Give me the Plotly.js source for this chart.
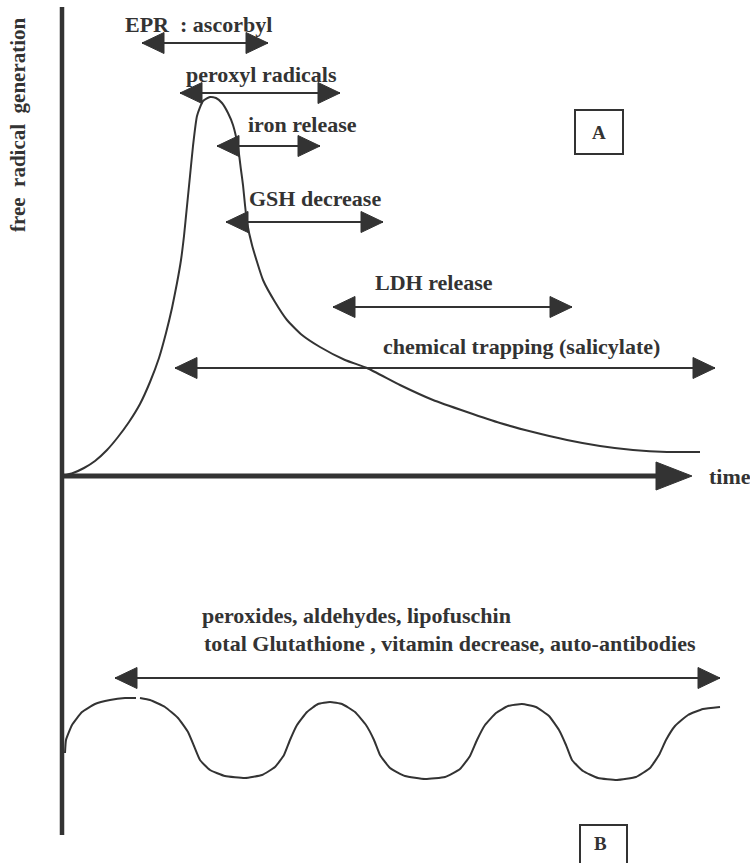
<!DOCTYPE html>
<html>
<head>
<meta charset="utf-8">
<script src="https://cdn.plot.ly/plotly-3.0.1.min.js"></script>
<style>html,body{margin:0;padding:0;background:#fff;}#chart{width:750px;height:863px;}</style>
</head>
<body>
<div id="chart"></div>
<script>
// ---- Data (x = time units from origin, y = level above time axis) ----
const curveTime = [0,11,22,33,45,56,67,78,88,97,104,110,115,119,122,125,128,131,135,141,148,154,160,166,171,176,179,181,183,185,190,201,213,225,240,258,283,305,338,371,405,438,471,505,538,571,605,638];
const curveLevel = [0,3,8,15,26,39,54,72,94,118,143,168,193,216,240,270,300,330,360,375,379,378,373,363,351,329,306,291,271,254,231,196,174,156,141,129,116,108,91,76,64,53,44,36,30,26,24,24];

const waveTime = [3,4,10,20,33,48,63,74,null,78,88,103,116,126,132,138,148,163,183,200,213,222,228,235,245,256,268,280,293,304,312,318,328,343,363,383,398,408,415,423,434,446,460,474,487,497,504,510,521,536,555,574,588,597,604,613,626,641,658];
const waveLevel = [-277,-264,-249,-236,-228,-224,-222,-222,null,-222,-224,-231,-242,-256,-270,-284,-294,-300,-302,-299,-291,-279,-264,-249,-236,-228,-226,-228,-236,-249,-264,-279,-292,-300,-303,-301,-293,-280,-264,-249,-237,-230,-228,-231,-240,-254,-269,-284,-295,-302,-304,-301,-292,-279,-264,-250,-239,-233,-231];

const arrowLabels = ["EPR\u00a0\u00a0: ascorbyl","peroxyl radicals","iron release","GSH decrease","LDH release","chemical trapping (salicylate)"];
const arrowStart = [80,118,155,164,271,113];
const arrowEnd   = [206,278,258,321,510,653];
const arrowLevel = [433,383,330,254,169,108];

const panelBLines = ["peroxides, aldehydes, lipofuschin","total Glutathione , vitamin decrease, auto-antibodies"];
const panelBArrow = {start:53, end:658, level:-202};

const axisX = {start:0, tip:630, level:0};
const axisY = {x:0, top:469, bottom:-359};

// ---- Styles / label placement ----
const INK = '#333333';
const FONT = {family:'"Liberation Serif", "Times New Roman", serif', size:22, color:INK};
const HEAD_L = 22, HEAD_H = 10.5;
const labelX = [136,199,240,253,372,459];
const labelY = [452,402,352,278,194,130];

const traces = [];
const shapes = [];
const annotations = [];

function headPath(xt, y, dir, L, H){
  const xb = xt - dir*L;
  return `M ${xt},${y} L ${xb},${y+H} L ${xb},${y-H} Z`;
}
function addHead(xt,y,dir,L,H){
  shapes.push({type:'path', xref:'x', yref:'y', path:headPath(xt,y,dir,L,H), fillcolor:INK, line:{color:INK, width:1}});
}

// axes
traces.push({x:[axisY.x, axisY.x], y:[axisY.top, axisY.bottom], mode:'lines', line:{color:INK, width:4.5}, hoverinfo:'skip'});
traces.push({x:[axisX.start, axisX.tip-30], y:[axisX.level, axisX.level], mode:'lines', line:{color:INK, width:5}, hoverinfo:'skip'});
addHead(axisX.tip, axisX.level, 1, 36, 14);

// curve A
traces.push({x:curveTime, y:curveLevel, mode:'lines', line:{color:INK, width:2, shape:'spline', smoothing:0.5}, hoverinfo:'skip'});
// wave B
traces.push({x:waveTime, y:waveLevel, mode:'lines', connectgaps:false, line:{color:INK, width:2, shape:'spline', smoothing:0.4}, hoverinfo:'skip'});

// double arrows panel A
for (let i=0;i<arrowLabels.length;i++){
  traces.push({x:[arrowStart[i], arrowEnd[i]], y:[arrowLevel[i], arrowLevel[i]], mode:'lines', line:{color:INK, width:2}, hoverinfo:'skip'});
  addHead(arrowStart[i], arrowLevel[i], -1, HEAD_L, HEAD_H);
  addHead(arrowEnd[i], arrowLevel[i], 1, HEAD_L, HEAD_H);
  annotations.push({x:labelX[i], y:labelY[i], xref:'x', yref:'y', text:'<b>'+arrowLabels[i]+'</b>', showarrow:false, xanchor:'center', yanchor:'middle', font:FONT});
}

// panel B arrow
traces.push({x:[panelBArrow.start, panelBArrow.end], y:[panelBArrow.level, panelBArrow.level], mode:'lines', line:{color:INK, width:2}, hoverinfo:'skip'});
addHead(panelBArrow.start, panelBArrow.level, -1, HEAD_L, HEAD_H);
addHead(panelBArrow.end, panelBArrow.level, 1, HEAD_L, HEAD_H);
annotations.push({x:138, y:-139, xref:'x', yref:'y', text:'<b>'+panelBLines[0]+'</b>', showarrow:false, xanchor:'left', yanchor:'middle', font:FONT});
annotations.push({x:140, y:-167, xref:'x', yref:'y', text:'<b>'+panelBLines[1]+'</b>', showarrow:false, xanchor:'left', yanchor:'middle', font:FONT});

// time label
annotations.push({x:645, y:0, xref:'x', yref:'y', text:'<b>time</b>', showarrow:false, xanchor:'left', yanchor:'middle', font:FONT});
// y label
annotations.push({x:-44, y:351, xref:'x', yref:'y', text:'<b>free\u00a0\u00a0radical\u00a0\u00a0generation</b>', showarrow:false, textangle:-90, xanchor:'center', yanchor:'middle', font:Object.assign({}, FONT, {size:21})});

// panel boxes
shapes.push({type:'rect', xref:'x', yref:'y', x0:513, x1:561, y0:322, y1:366, line:{color:INK, width:2}});
annotations.push({x:537, y:344, xref:'x', yref:'y', text:'<b>A</b>', showarrow:false, font:Object.assign({}, FONT, {size:19})});
shapes.push({type:'rect', xref:'x', yref:'y', x0:518, x1:565, y0:-399, y1:-349, line:{color:INK, width:2}});
annotations.push({x:538, y:-367, xref:'x', yref:'y', text:'<b>B</b>', showarrow:false, font:Object.assign({}, FONT, {size:19})});

const layout = {
  width:750, height:863,
  margin:{l:0, r:0, t:0, b:0},
  paper_bgcolor:'#ffffff', plot_bgcolor:'#ffffff',
  showlegend:false,
  xaxis:{range:[-62, 688], visible:false, fixedrange:true},
  yaxis:{range:[-387, 476], visible:false, fixedrange:true},
  shapes:shapes,
  annotations:annotations
};
Plotly.newPlot('chart', traces, layout, {staticPlot:true, displayModeBar:false});
</script>
</body>
</html>
